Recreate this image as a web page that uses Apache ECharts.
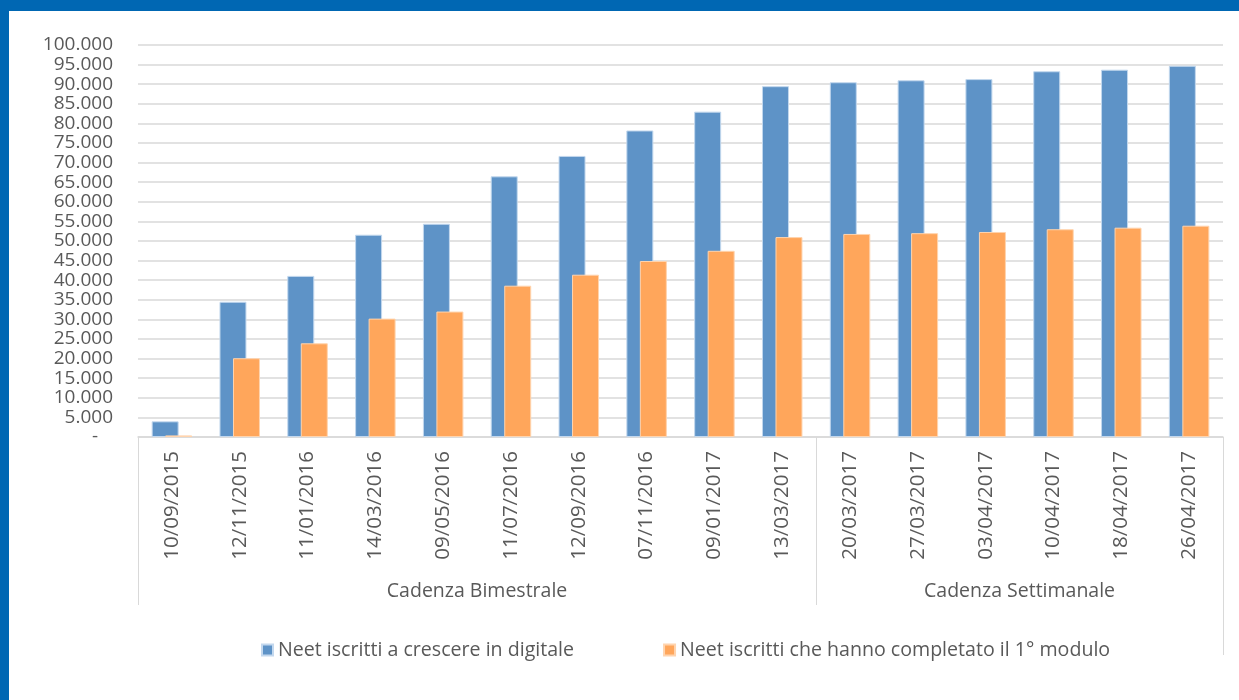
<!DOCTYPE html>
<html>
<head>
<meta charset="utf-8">
<script src="https://cdn.jsdelivr.net/npm/echarts@6/dist/echarts.min.js"></script>
<style>
  html, body { margin: 0; padding: 0; background: #ffffff; }
  #chart {
    box-sizing: border-box;
    width: 1239px; height: 700px;
    border-top: 11px solid #0067b3;
    border-left: 9px solid #0067b3;
    background: #ffffff;
  }
</style>
</head>
<body>
<div id="chart"></div>
<script>
const categories = ['10/09/2015','12/11/2015','11/01/2016','14/03/2016','09/05/2016','11/07/2016','12/09/2016','07/11/2016','09/01/2017','13/03/2017','20/03/2017','27/03/2017','03/04/2017','10/04/2017','18/04/2017','26/04/2017'];
const iscritti = [4000, 34500, 41100, 51600, 54400, 66500, 71700, 78200, 83000, 89500, 90500, 91000, 91300, 93300, 93700, 94700];
const completato = [400, 20100, 23900, 30200, 32000, 38600, 41400, 44900, 47500, 51000, 51800, 52000, 52300, 53000, 53400, 53900];
const groupNames = ['Cadenza Bimestrale', 'Cadenza Settimanale'];
const groupBounds = [0, 10, 16];
const groupCenters = [5, 13];
const seriesNames = ['Neet iscritti a crescere in digitale', 'Neet iscritti che hanno completato il 1° modulo'];

const FONT = '"Open Sans", sans-serif';
const TXT = '#595959';
const LINE = '#d9d9d9';

function fmt(v) {
  if (v === 0) return '-   ';
  return String(v).replace(/\B(?=(\d{3})+(?!\d))/g, '.');
}

const chart = echarts.init(document.getElementById('chart'), null, { renderer: 'canvas' });
chart.setOption({
  animation: false,
  grid: { left: 129, right: 16, top: 34, bottom: 263 },
  legend: {
    left: 247, top: 624,
    itemWidth: 11, itemHeight: 11, itemGap: 89,
    icon: 'rect',
    textStyle: { fontFamily: FONT, fontSize: 19.6, color: TXT },
    data: seriesNames
  },
  xAxis: [
    {
      type: 'category', data: categories,
      axisLine: { show: true, lineStyle: { color: LINE, width: 1.5 } },
      axisTick: { show: false },
      axisLabel: { rotate: 90, margin: 14, interval: 0, fontFamily: FONT, fontSize: 20.5, color: TXT }
    },
    {
      type: 'value', min: 0, max: 16, position: 'bottom', offset: 168,
      axisLine: { show: false },
      splitLine: { show: false },
      axisTick: { show: true, inside: true, length: 168, customValues: groupBounds, lineStyle: { color: LINE, width: 1 } },
      axisLabel: {
        show: true, inside: true, margin: 4, customValues: groupCenters,
        fontFamily: FONT, fontSize: 19.5, color: TXT,
        formatter: function (v) { return v === groupCenters[0] ? groupNames[0] : groupNames[1]; }
      }
    },
    {
      type: 'value', min: 0, max: 16, position: 'bottom', offset: 218,
      axisLine: { show: false },
      splitLine: { show: false },
      axisTick: { show: true, inside: true, length: 50, customValues: [16], lineStyle: { color: LINE, width: 1 } },
      axisLabel: { show: false }
    }
  ],
  yAxis: {
    type: 'value', min: 0, max: 100000, interval: 5000,
    axisLine: { show: false }, axisTick: { show: false },
    splitLine: { lineStyle: { color: LINE, width: 1.5 } },
    axisLabel: { margin: 25, fontFamily: FONT, fontSize: 19, color: TXT, formatter: fmt }
  },
  series: [
    {
      name: seriesNames[0], type: 'bar', data: iscritti,
      barWidth: 27, barGap: '-50%',
      itemStyle: { color: '#5e93c7', borderColor: '#c3d8ee', borderWidth: 1 }
    },
    {
      name: seriesNames[1], type: 'bar', data: completato,
      barWidth: 27, barGap: '-50%',
      itemStyle: { color: '#ffa65b', borderColor: '#ffd4ae', borderWidth: 1 }
    }
  ]
});
</script>
</body>
</html>
